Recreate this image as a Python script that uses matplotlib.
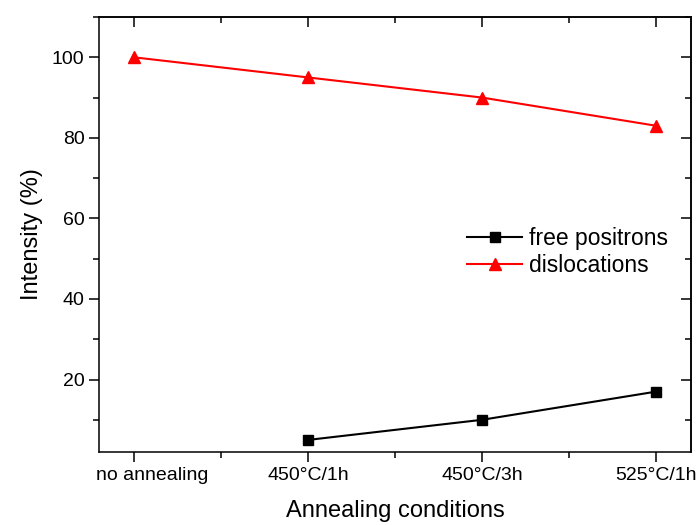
import numpy as np
import matplotlib
matplotlib.use('Agg')
import matplotlib.pyplot as plt
import matplotlib.transforms as mtransforms
from matplotlib.ticker import MultipleLocator

plt.rcParams['font.family'] = ['Liberation Sans', 'DejaVu Sans']

# --- data ---
conditions = ['no annealing', '450°C/1h', '450°C/3h', '525°C/1h']
free_positrons = [np.nan, 5, 10, 17]
dislocations = [100, 95, 90, 83]

fig = plt.figure(figsize=(6.99, 5.25), dpi=100)
ax = fig.add_axes([0.1416, 0.139, 0.847, 0.8286])

x = np.arange(len(conditions))
ax.plot(x, free_positrons, color='black', marker='s', markersize=7,
        linewidth=1.5, label='free positrons')
ax.plot(x, dislocations, color='red', marker='^', markersize=9,
        linewidth=1.5, label='dislocations')

ax.set_xlim(-0.2, 3.2)
ax.set_ylim(2, 110)
ax.set_xticks(x)
ax.set_xticklabels(conditions)
ax.set_yticks([20, 40, 60, 80, 100])
ax.xaxis.set_minor_locator(MultipleLocator(0.5))
ax.yaxis.set_minor_locator(MultipleLocator(10))
ax.tick_params(which='both', direction='out', width=1.1, labelsize=14)
ax.tick_params(which='major', length=7)
ax.tick_params(which='minor', length=4)

# first label sits a bit right of its tick in the original
lbl = ax.get_xticklabels()[0]
lbl.set_transform(lbl.get_transform() +
                  mtransforms.ScaledTranslation(0.18, 0, fig.dpi_scale_trans))

# mirrored inward ticks on top and right
top = ax.secondary_xaxis('top')
top.set_xticks(x)
top.xaxis.set_minor_locator(MultipleLocator(0.5))
top.tick_params(which='both', direction='in', width=1.1, labeltop=False)
top.tick_params(which='major', length=7)
top.tick_params(which='minor', length=4)
right = ax.secondary_yaxis('right')
right.set_yticks([20, 40, 60, 80, 100])
right.yaxis.set_minor_locator(MultipleLocator(10))
right.tick_params(which='both', direction='in', width=1.1, labelright=False)
right.tick_params(which='major', length=7)
right.tick_params(which='minor', length=4)

for a in (ax, top, right):
    for s in a.spines.values():
        s.set_linewidth(1.1)

ax.set_xlabel('Annealing conditions', fontsize=17, labelpad=12)
ax.set_ylabel('Intensity (%)', fontsize=17, labelpad=6)

ax.legend(loc='center left', bbox_to_anchor=(0.587, 0.46), frameon=False,
          fontsize=16.5, handlelength=2.4, handletextpad=0.3, labelspacing=0.2)

fig.savefig('out.png', dpi=100)
